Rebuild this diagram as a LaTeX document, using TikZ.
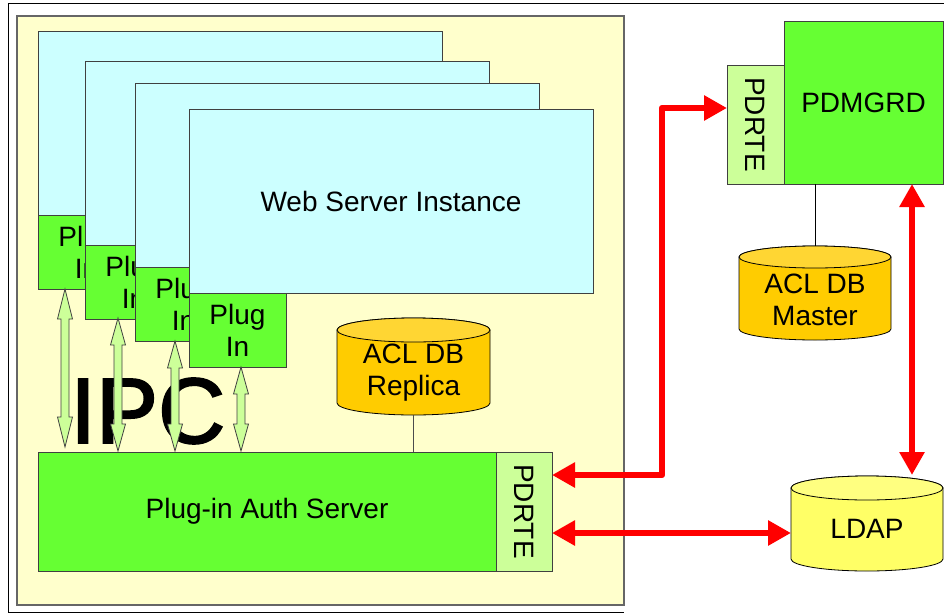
\documentclass[tikz,border=0pt]{standalone}
\usepackage{fontspec}
\setmainfont{Liberation Sans}
\newfontfamily\ipcfont[FakeBold=2]{Liberation Sans}
\usetikzlibrary{arrows.meta,calc}
\definecolor{bgyellow}{HTML}{FFFFCC}
\definecolor{webcyan}{HTML}{CCFFFF}
\definecolor{plgreen}{HTML}{66FF33}
\definecolor{ltgreen}{HTML}{CCFF99}
\definecolor{dborange}{HTML}{FFCC00}
\definecolor{dborangetop}{HTML}{FFD633}
\definecolor{ldapyellow}{HTML}{FFFF66}
\definecolor{ldaptop}{HTML}{FFFF80}
\definecolor{arrred}{HTML}{FF0000}
\newcommand\bigtxt{\fontsize{28}{32}\selectfont}
\begin{document}
\begin{tikzpicture}[x=1pt,y=-1pt,
  box/.style={draw=black!75, line width=0.9pt, inner sep=0pt, outer sep=0pt,
    anchor=north west, font=\bigtxt, align=center},
  webbox/.style={box, fill=webcyan, minimum width=404pt, minimum height=184pt},
  plugbox/.style={box, fill=plgreen, minimum width=97pt, minimum height=74pt},
  cylbody/.style={draw=black, line width=0.8pt},
  dbtext/.style={font=\bigtxt, align=center, inner sep=0pt},
  ipcarrow/.style={fill=ltgreen, draw=black!75, line width=0.8pt, line join=miter},
  redarr/.style={draw=arrred, line width=6.5pt, line join=round,
    {Triangle[length=23pt,width=24pt]}-{Triangle[length=23pt,width=24pt]}},
  thinline/.style={draw=black!70, line width=0.9pt}]
\useasboundingbox (0,0) rectangle (944,613);
\fill[white] (0,0) rectangle (944,613);
% outer frame
\draw[black, line width=1.3pt] (950,3.5) -- (8.5,3.5) -- (8.5,612.5) -- (624,612.5);
% host container
\filldraw[fill=bgyellow, draw=black!60, line width=1.2pt] (17,16) rectangle (624,605);
% web server instances with plug-ins
\node[webbox] (web1) at (38,31) {};
\node[plugbox] (p1) at (38,215) {Plug\\In};
\node[webbox] (web2) at (85,61) {};
\node[plugbox] (p2) at (85,245) {Plug\\In};
\node[webbox] (web3) at (135,83) {};
\node[plugbox] (p3) at (135,267) {Plug\\In};
\node[webbox] (web4) at (189,109) {Web Server Instance};
\node[plugbox] (p4) at (189,293) {Plug\\In};
% IPC label
\node[anchor=base west, inner sep=0pt, font=\ipcfont\fontsize{93}{93}\selectfont] (ipc) at (70,443) {IPC};
% IPC double arrows
\foreach \x/\ya/\yb/\hl in {65/289/447/30, 118/318/451/27, 175/341/451/27, 241/367/451/27} {
  \filldraw[ipcarrow] (\x,\ya) -- (\x+7.5,\ya+\hl) -- (\x+4,\ya+\hl) -- (\x+4,\yb-\hl)
    -- (\x+7.5,\yb-\hl) -- (\x,\yb) -- (\x-7.5,\yb-\hl) -- (\x-4,\yb-\hl)
    -- (\x-4,\ya+\hl) -- (\x-7.5,\ya+\hl) -- cycle;
}
% auth server
\node[box, fill=plgreen, minimum width=458pt, minimum height=119pt] (auth) at (38,452) {Plug-in Auth Server};
\node[box, fill=ltgreen, minimum width=56pt, minimum height=119pt] (authpd) at (496,452) {};
\node[font=\bigtxt, rotate=-90, inner sep=0pt] at (authpd.center) {PDRTE};
% ACL DB Replica
\filldraw[cylbody, fill=dborange] (337,330) -- (337,403) arc[start angle=180,end angle=0,x radius=76.5,y radius=12]
  -- (490,330) arc[start angle=0,end angle=-180,x radius=76.5,y radius=12] -- cycle;
\filldraw[cylbody, fill=dborangetop] (413.5,330) ellipse[x radius=76.5, y radius=12];
\node[dbtext] (replica) at (413.5,372.5) {ACL DB\\Replica};
\coordinate (replicaB) at (413.5,415);
\draw[thinline] (replicaB) -- (auth.north -| replicaB);
% PDMGRD
\node[box, fill=plgreen, minimum width=159pt, minimum height=163pt] (pdmgrd) at (784,21) {PDMGRD};
\node[box, fill=ltgreen, minimum width=57pt, minimum height=119pt] (pdrte2) at (727,65) {};
\node[font=\bigtxt, rotate=-90, inner sep=0pt] at (pdrte2.center) {PDRTE};
% ACL DB Master
\filldraw[cylbody, fill=dborange] (739,257) -- (739,329) arc[start angle=180,end angle=0,x radius=76,y radius=11]
  -- (891,257) arc[start angle=0,end angle=-180,x radius=76,y radius=11] -- cycle;
\filldraw[cylbody, fill=dborangetop] (815,257) ellipse[x radius=76, y radius=11];
\node[dbtext] (master) at (815,299.5) {ACL DB\\Master};
\coordinate (masterT) at (815,246);
\draw[black, line width=0.8pt] (pdmgrd.south -| masterT) -- (masterT);
% LDAP
\filldraw[cylbody, fill=ldapyellow] (791,488) -- (791,559) arc[start angle=180,end angle=0,x radius=76,y radius=12]
  -- (943,488) arc[start angle=0,end angle=-180,x radius=76,y radius=12] -- cycle;
\filldraw[cylbody, fill=ldaptop] (867,488) ellipse[x radius=76, y radius=12];
\node[dbtext] (ldap) at (867,528.5) {LDAP};
\coordinate (ldapW) at (791,533);
\coordinate (ldapT) at (912,475);
% red connectors
\draw[redarr] ([yshift=36.5pt]authpd.east) -| (662,108) -- (pdrte2.west |- 0,108);
\draw[redarr] ([yshift=-21.5pt]authpd.east) -- (ldapW);
\draw[redarr] ([xshift=48.5pt]pdmgrd.south) -- (ldapT);
\end{tikzpicture}
\end{document}
